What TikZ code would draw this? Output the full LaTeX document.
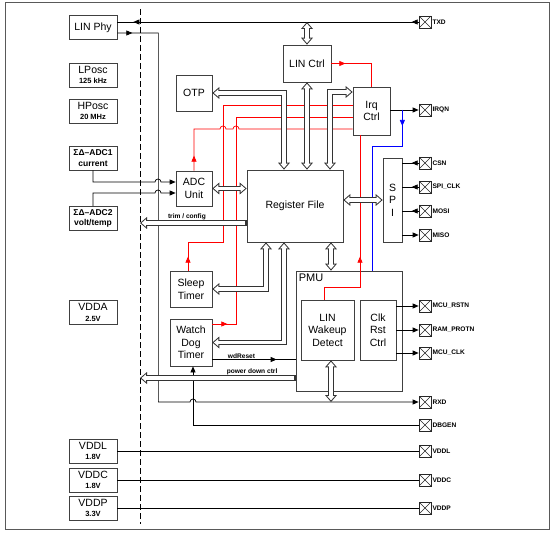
\documentclass[tikz,border=0pt]{standalone}
\usepackage{fontspec}
\setmainfont{Liberation Sans}
\usetikzlibrary{arrows.meta,decorations.markings}

\tikzset{
  blk/.style={draw=black!75, fill=white, align=center, inner sep=1pt, line width=0.7pt, font=\boxfont},
  pwr/.style={blk, minimum width=48pt, minimum height=24pt},
  padbox/.style={draw=black!85, fill=white, minimum size=12pt, inner sep=0pt, line width=0.7pt, label distance=1pt,
    path picture={\draw[line width=0.6pt] (path picture bounding box.north west) -- (path picture bounding box.south east)
      (path picture bounding box.south west) -- (path picture bounding box.north east);}},
  pinlbl/.style={font=\pinfont, inner sep=1pt},
  lbl/.style={font=\pinfont, inner sep=1pt},
  sig/.style={line width=0.7pt, >={Triangle[length=6pt,width=5pt]}},
  redsig/.style={sig, red},
  flow/.style={postaction={decorate, decoration={markings, mark=at position #1 with {\arrow{Triangle[length=6pt,width=5pt]}}}}},
  busouter/.style={line width=5.5pt, black!80, >={Triangle[width=12pt,length=7pt,line width=0pt]}},
  businner/.style={line width=3.5pt, white, >={Triangle[width=7.6pt,length=4.4pt,line width=0pt]}, shorten >=1.55pt, shorten <=1.55pt},
}
\newcommand{\busarrow}[2]{\draw[busouter,#1] #2; \draw[businner,#1] #2;}

\begin{document}
\begin{tikzpicture}[x=1pt,y=-1pt]
    \providecommand{\boxfont}{\fontsize{10.5}{12.5}\selectfont}
    \providecommand{\pinfont}{\fontsize{6.6}{7.5}\selectfont\bfseries}
    \providecommand{\subfont}{\fontsize{7.5}{9}\selectfont\bfseries}
    \providecommand{\adcfont}{\fontsize{8.5}{10.5}\selectfont\bfseries}
    \useasboundingbox (0,0) rectangle (553,534);
    \draw[black!65, line width=1pt] (5,3) rectangle (549,529);
    \coordinate (dtop) at (140,9);
    \coordinate (dbot) at (140,524);
    \draw[dash pattern=on 6pt off 3pt, line width=0.8pt] (dtop) -- (dbot);
    % analog side
    \node[pwr] (linphy) at (93,27.5) {LIN Phy};
    \node[pwr] (lposc) at (93,75) {LPosc\\[-2pt]{\subfont 125 kHz}};
    \node[pwr] (hposc) at (93,111) {HPosc\\[-2pt]{\subfont 20 MHz}};
    \node[pwr, font=\adcfont] (adcone) at (93,158) {ΣΔ–ADC1\\current};
    \node[pwr, font=\adcfont] (adctwo) at (93,218.5) {ΣΔ–ADC2\\volt/temp};
    \node[pwr] (vdda) at (93,312.5) {VDDA\\[-2pt]{\subfont 2.5V}};
    \node[pwr] (vddl) at (93,451) {VDDL\\[-2pt]{\subfont 1.8V}};
    \node[pwr] (vddc) at (93,480) {VDDC\\[-2pt]{\subfont 1.8V}};
    \node[pwr] (vddp) at (93,508) {VDDP\\[-2pt]{\subfont 3.3V}};
    % digital side
    \node[blk, minimum width=36pt, minimum height=36pt] (otp) at (194,93) {OTP};
    \node[blk, minimum width=48pt, minimum height=37pt] (linctrl) at (307,63.5) {LIN Ctrl};
    \node[blk, minimum width=37pt, minimum height=48pt] (irq) at (371.5,111) {Irq\\Ctrl};
    \node[blk, minimum width=36pt, minimum height=35pt] (adcu) at (194,188.5) {ADC\\Unit};
    \node[blk, minimum width=96pt, minimum height=72pt] (regfile) at (295,206) {Register File};
    \node[blk, minimum width=19pt, minimum height=84pt] (spi) at (392.5,200) {S\\P\\I};
    \node[blk, minimum width=42pt, minimum height=36pt] (sleep) at (191,289) {Sleep\\Timer};
    \node[blk, minimum width=42pt, minimum height=47pt] (wdt) at (191,342.5) {Watch\\Dog\\Timer};
    \node[blk, minimum width=106pt, minimum height=120pt] (pmu) at (349,331) {};
    \node[anchor=north west, inner sep=3pt, font=\fontsize{11}{12}\selectfont] (pmulbl) at (pmu.north west) {PMU};
    \node[blk, minimum width=53pt, minimum height=60pt] (linwake) at (327.5,330) {LIN\\Wakeup\\Detect};
    \node[blk, minimum width=36pt, minimum height=60pt] (clkrst) at (378,330) {Clk\\Rst\\Ctrl};
    \foreach \pname/\ptext/\py in {txd/TXD/22, irqn/IRQN/110, csn/CSN/163, spiclk/SPI\_CLK/187, mosi/MOSI/211, miso/MISO/235,
        mcurstn/MCU\_RSTN/306, ramprotn/RAM\_PROTN/330, mcuclk/MCU\_CLK/353, rxd/RXD/402, dbgen/DBGEN/425,
        pvddl/VDDL/451, pvddc/VDDC/480, pvddp/VDDP/508}
        \node[padbox, label={[pinlbl]right:\ptext}] (\pname) at (425,\py) {};
    % signals
    \draw[sig, flow=7pt, flow=-16pt] (txd.west) -- (txd.west -| linphy.east);
    \draw[sig, flow=15pt, ->] ([yshift=-5.5pt]linphy.east) -- ++(41,0) |- (190,402) arc[start angle=180, end angle=360, radius=3] -- (rxd.west);
    \draw[sig, ->] (adcone.south) |- (155,182) arc[start angle=180, end angle=360, radius=3] -- ([yshift=6.5pt]adcu.west);
    \draw[sig, ->] (adctwo.north) |- (155,193) arc[start angle=180, end angle=360, radius=3] -- ([yshift=-4.5pt]adcu.west);
    \foreach \p in {csn,spiclk,mosi}
        \draw[sig, flow=7pt] (\p.west) -- (\p.west -| spi.east);
    \draw[sig, ->] (miso.west -| spi.east) -- (miso.west);
    \foreach \p in {mcurstn,ramprotn,mcuclk}
        \draw[sig, ->] (\p.west -| clkrst.east) -- (\p.west);
    \draw[sig, ->] (irqn.west -| irq.east) -- (irqn.west);
    \coordinate (irqbr) at (irqn.west -| spi.east);
    \draw[sig, blue, flow=16pt] (irqbr) -- ++(0,36) -| ([xshift=23pt]pmu.north);
    \coordinate (wdr) at ([yshift=-17pt]wdt.east);
    \draw[sig, flow=-19pt] (wdr) -- (wdr -| pmu.west) node[lbl, pos=0.35, above] (wdrlbl) {wdReset};
    \draw[sig, ->] (dbgen.west) -| ([xshift=2pt]wdt.south);
    \foreach \p in {vddl,vddc,vddp}
        \draw[sig] (\p.east) -- (p\p.west);
    % interrupt requests
    \draw[redsig, flow=15pt] (adcu.north) |- (220,129) arc[start angle=180, end angle=360, radius=3] -- (233,129)
        arc[start angle=180, end angle=360, radius=3] -- ([yshift=-18pt]irq.west);
    \draw[redsig, flow=14pt] ([xshift=-3pt]sleep.north) |- (223,242) |- ([yshift=6pt]irq.west);
    \draw[redsig, flow=15pt] ([yshift=18.5pt]wdt.east) -| (236,117) -- ([yshift=-6pt]irq.west);
    \draw[redsig, flow=14pt] (linctrl.east) -| (irq.north);
    \draw[redsig, flow=79pt] ([xshift=-3.5pt]linwake.north) -- ++(0,-12) -| ([xshift=-11.5pt]irq.south);
    % buses
    \coordinate (pmubus) at ([xshift=36pt]regfile.south);
    \coordinate (trim) at ([yshift=-17pt]regfile.west);
    \coordinate (pdown) at ([yshift=-47pt]pmu.west);
    \busarrow{<->}{(txd.west -| linctrl.north) -- (linctrl.north)}
    \busarrow{<->}{(otp.east) -| ([xshift=-11pt]regfile.north)}
    \busarrow{<->}{(linctrl.south) -- (linctrl.south |- regfile.north)}
    \busarrow{<->}{([xshift=35pt]regfile.north) |- ([yshift=19pt]irq.west)}
    \busarrow{<->}{(adcu.east) -- (adcu.east -| regfile.west)}
    \busarrow{<->}{(spi.west -| regfile.east) -- (spi.west)}
    \busarrow{->}{(trim) -- (trim -| dtop)}
    \busarrow{<->}{(sleep.east) -| ([xshift=-29pt]regfile.south)}
    \busarrow{<->}{(wdt.east) -| ([xshift=-11pt]regfile.south)}
    \busarrow{<->}{(pmubus) -- (pmubus |- pmu.north)}
    \busarrow{->}{(pdown) -- (pdown -| dtop)}
    \busarrow{<->}{(pmubus |- linwake.south) -- (pmubus |- rxd.west)}
    \path (trim) -- (trim -| dtop) node[lbl, pos=0.56, above=2pt] (trimlbl) {trim / config};
    \path (pdown) -- (pdown -| dtop) node[lbl, pos=0.28, above=2pt] (pdlbl) {power down ctrl};
\end{tikzpicture}
\end{document}
